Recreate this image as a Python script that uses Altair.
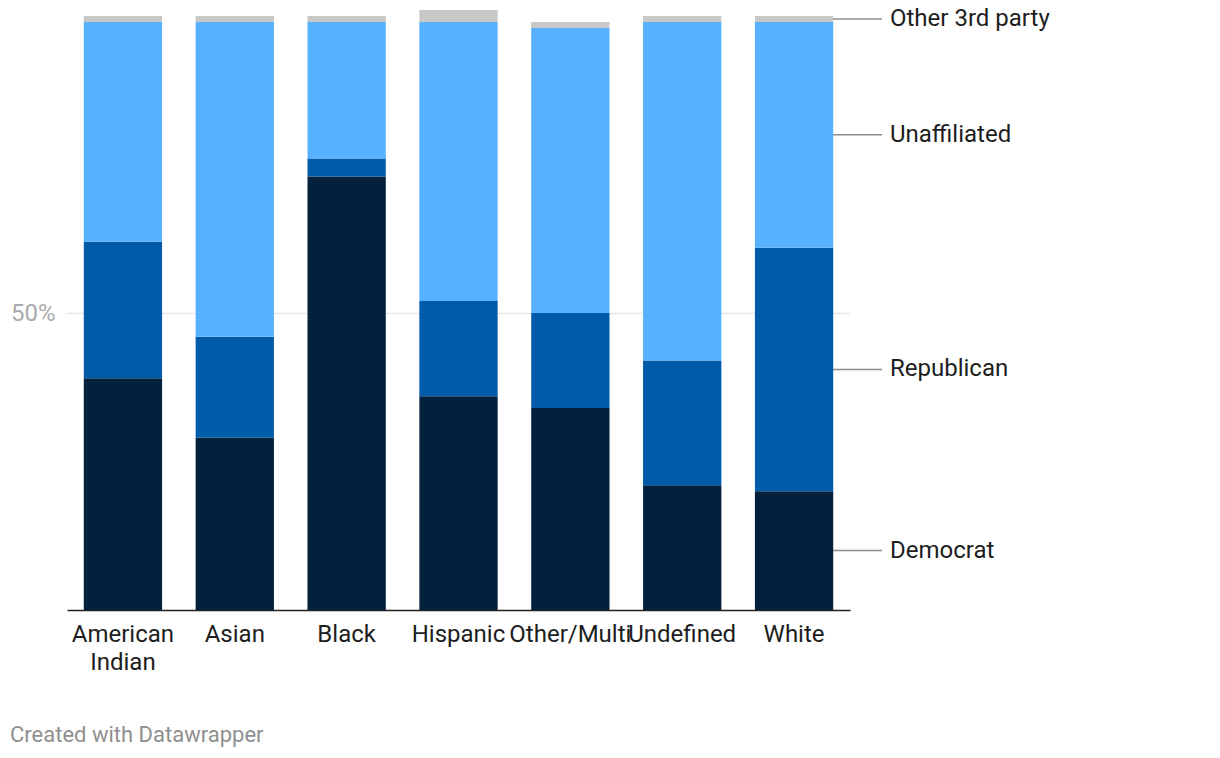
import altair as alt
import pandas as pd

categories = ["American Indian", "Asian", "Black", "Hispanic", "Other/Multi", "Undefined", "White"]
series = ["Democrat", "Republican", "Unaffiliated", "Other 3rd party"]
democrat = [39, 29, 73, 36, 34, 21, 20]
republican = [23, 17, 3, 16, 16, 21, 41]
unaffiliated = [37, 53, 23, 47, 48, 57, 38]
other = [1, 1, 1, 2, 1, 1, 1]
colors = ["#03203c", "#005ca9", "#56b1ff", "#c8c8c8"]
footer = "Created with Datawrapper"

rows = []
for s_i, (s, vals) in enumerate(zip(series, [democrat, republican, unaffiliated, other])):
    for c, v in zip(categories, vals):
        rows.append({"category": c, "series": s, "value": v, "order": s_i})
df = pd.DataFrame(rows)

FONT = "Roboto"

base = alt.Chart(df).transform_stack(
    stack="value",
    groupby=["category"],
    as_=["y0", "y1"],
    sort=[alt.SortField("order", "ascending")],
)

bars = base.mark_bar().encode(
    x=alt.X(
        "category:N",
        sort=categories,
        scale=alt.Scale(paddingInner=0.3, paddingOuter=0.15),
        axis=alt.Axis(
            title=None,
            labelAngle=0,
            labelFontSize=24,
            labelFont=FONT,
            labelColor="#1d1d1d",
            labelPadding=12,
            labelLineHeight=28,
            labelOverlap=False,
            labelLimit=300,
            ticks=False,
            domainColor="#222222",
            domainWidth=1.5,
            labelExpr="datum.label == 'American Indian' ? ['American', 'Indian'] : datum.label",
        ),
    ),
    y=alt.Y(
        "y0:Q",
        scale=alt.Scale(domain=[0, 100], nice=False),
        axis=alt.Axis(
            title=None,
            values=[50],
            labelExpr="datum.value + '%'",
            labelFontSize=24,
            labelFont=FONT,
            labelColor="#aaaaaa",
            labelPadding=12,
            ticks=False,
            domain=False,
            gridColor="#e6e6e6",
            gridWidth=1.5,
        ),
    ),
    y2="y1:Q",
    color=alt.Color(
        "series:N",
        scale=alt.Scale(domain=series, range=colors),
        legend=None,
    ),
)

label_base = base.transform_filter(
    alt.datum.category == "White"
).transform_calculate(mid="(datum.y0 + datum.y1) / 2")

leaders = label_base.mark_rule(color="#8c8c8c", strokeWidth=1.5).encode(
    x=alt.value(766),
    x2=alt.value(815),
    y=alt.Y("mid:Q"),
)

labels = label_base.mark_text(
    align="left", baseline="middle", fontSize=24, font=FONT, color="#1d1d1d"
).encode(
    x=alt.value(823),
    y=alt.Y("mid:Q"),
    text="series:N",
)

foot = alt.Chart(pd.DataFrame({"t": [footer]})).mark_text(
    align="left", baseline="middle", fontSize=22, font=FONT, color="#8f8f8f"
).encode(
    x=alt.value(-57),
    y=alt.value(719),
    text="t:N",
)

chart = alt.layer(bars, leaders, labels, foot).properties(
    width=783,
    height=594,
    autosize=alt.AutoSizeParams(type="none"),
    padding={"left": 59, "top": 8, "right": 300, "bottom": 140},
).configure(font=FONT).configure_view(stroke=None)

chart.save("out.html", embed_options={"renderer": "svg", "actions": False})
